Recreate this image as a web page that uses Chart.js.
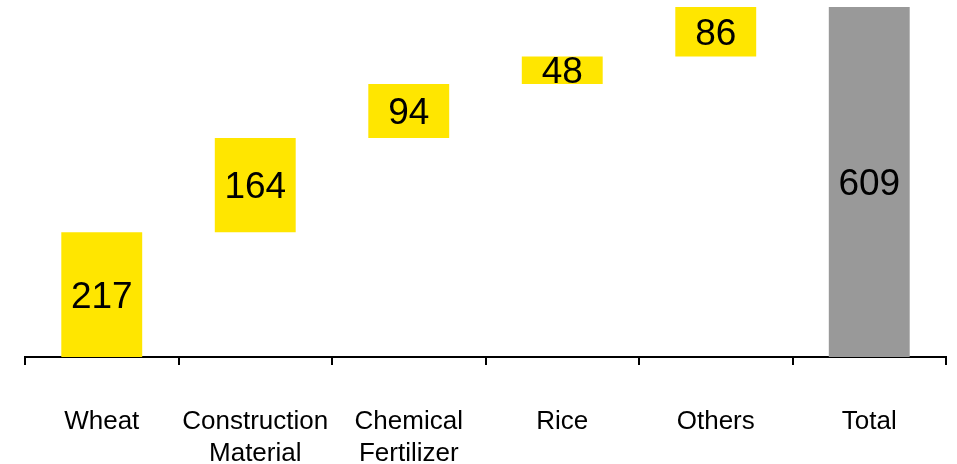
<!DOCTYPE html>
<html>
<head>
<meta charset="utf-8">
<script src="https://cdn.jsdelivr.net/npm/chart.js@4"></script>
<style>
  html, body { margin: 0; padding: 0; background: #ffffff; }
  #wrap { width: 957px; height: 464px; }
</style>
</head>
<body>
<div id="wrap"><canvas id="chart" width="957" height="464"></canvas></div>
<script>
// Contributions by commodity, then the overall total
const categories = [["Wheat"], ["Construction", "Material"], ["Chemical", "Fertilizer"], ["Rice"], ["Others"], ["Total"]];
const increments = [217, 164, 94, 48, 86];
const total = 609;

// Floating segments: each step starts where the previous one ended
const segments = [];
let running = 0;
increments.forEach(v => { segments.push([running, running + v]); running += v; });
segments.push([0, total]);
const valueLabels = [...increments, total];

const barColors = [...increments.map(() => '#FFE600'), '#999999'];

const valueLabelPlugin = {
  id: 'valueLabels',
  afterDatasetsDraw(chart) {
    const ctx = chart.ctx;
    const meta = chart.getDatasetMeta(0);
    ctx.save();
    ctx.font = '37px "Liberation Sans", Arial, sans-serif';
    ctx.fillStyle = '#000000';
    ctx.textAlign = 'center';
    ctx.textBaseline = 'middle';
    meta.data.forEach((bar, i) => {
      const y = (bar.y + bar.base) / 2;
      ctx.fillText(String(valueLabels[i]), bar.x, y + 3);
    });
    ctx.restore();
  }
};

new Chart(document.getElementById('chart'), {
  type: 'bar',
  data: {
    labels: categories,
    datasets: [{
      data: segments,
      backgroundColor: barColors,
      borderWidth: 0,
      categoryPercentage: 1,
      barPercentage: 0.527
    }]
  },
  options: {
    responsive: false,
    animation: false,
    layout: { padding: { top: 7, left: 25, right: 11, bottom: 0 } },
    plugins: { legend: { display: false }, tooltip: { enabled: false } },
    scales: {
      y: { display: false, min: 0, max: total },
      x: {
        offset: true,
        afterFit(scale) { scale.height = 107; },
        border: { display: true, color: '#000000', width: 2 },
        grid: {
          offset: true,
          drawOnChartArea: false,
          drawTicks: true,
          tickLength: 8,
          color: '#000000',
          lineWidth: 2
        },
        ticks: {
          color: '#000000',
          padding: 41,
          maxRotation: 0,
          autoSkip: false,
          font: { family: '"Liberation Sans", Arial, sans-serif', size: 26, lineHeight: 1.23 }
        }
      }
    }
  },
  plugins: [valueLabelPlugin]
});
</script>
</body>
</html>
